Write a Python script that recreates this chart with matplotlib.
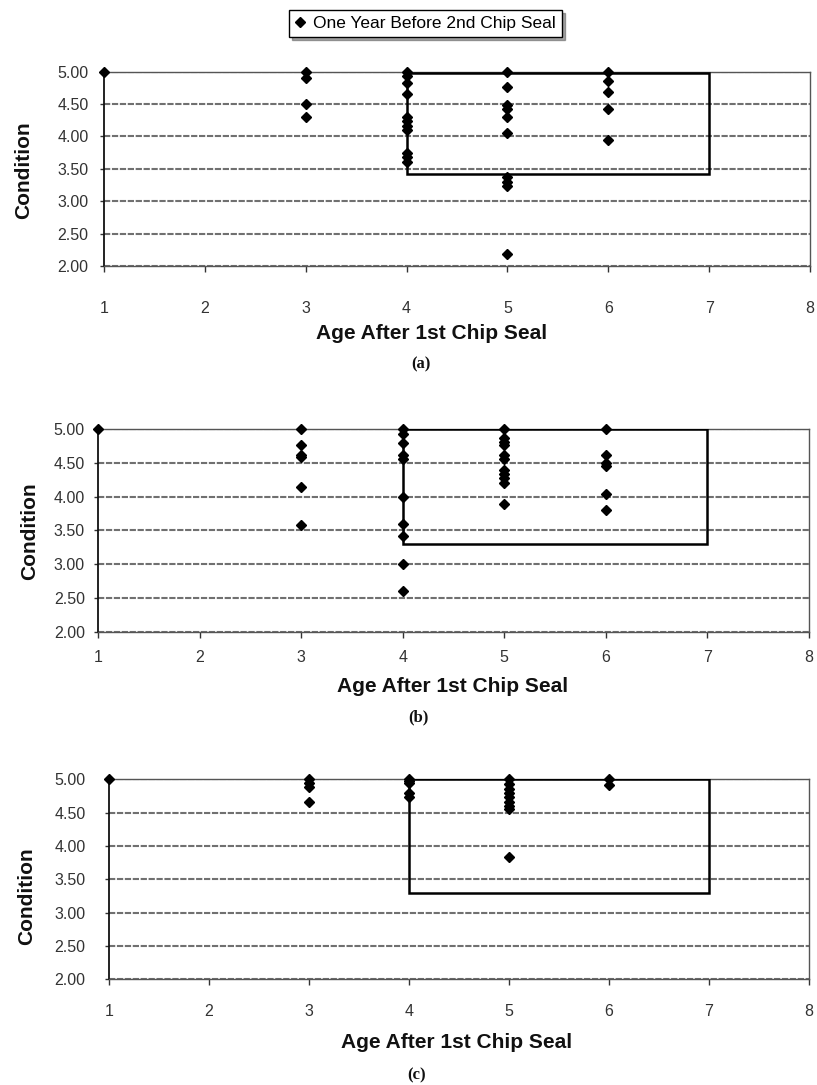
import matplotlib
matplotlib.use("Agg")
import matplotlib.pyplot as plt
from matplotlib.patches import Rectangle

plt.rcParams['font.family'] = ['Liberation Sans', 'DejaVu Sans']

W, H = 817, 1085

# ---------------- data ----------------
legend_label = "One Year Before 2nd Chip Seal"
x_label = "Age After 1st Chip Seal"
y_label = "Condition"
panel_labels = ["(a)", "(b)", "(c)"]
x_ticks = [1, 2, 3, 4, 5, 6, 7, 8]
y_ticks = [2.0, 2.5, 3.0, 3.5, 4.0, 4.5, 5.0]

a_age = [1,
         3, 3, 3, 3,
         4, 4, 4, 4, 4, 4, 4, 4, 4, 4, 4,
         5, 5, 5, 5, 5, 5, 5, 5, 5, 5,
         6, 6, 6, 6, 6]
a_cond = [5.00,
          5.00, 4.90, 4.50, 4.30,
          5.00, 4.94, 4.82, 4.65, 4.30, 4.24, 4.16, 4.10, 3.75, 3.69, 3.61,
          5.00, 4.77, 4.48, 4.42, 4.30, 4.06, 3.37, 3.30, 3.24, 2.18,
          5.00, 4.86, 4.68, 4.42, 3.95]

b_age = [1,
         3, 3, 3, 3, 3, 3,
         4, 4, 4, 4, 4, 4, 4, 4, 4, 4,
         5, 5, 5, 5, 5, 5, 5, 5, 5, 5, 5,
         6, 6, 6, 6, 6, 6]
b_cond = [5.00,
          5.00, 4.76, 4.62, 4.58, 4.15, 3.58,
          5.00, 4.93, 4.79, 4.61, 4.56, 4.00, 3.60, 3.42, 3.00, 2.60,
          5.00, 4.87, 4.81, 4.76, 4.61, 4.55, 4.40, 4.34, 4.27, 4.20, 3.89,
          5.00, 4.62, 4.50, 4.46, 4.04, 3.81]

c_age = [1,
         3, 3, 3, 3,
         4, 4, 4, 4, 4,
         5, 5, 5, 5, 5, 5, 5, 5, 5,
         6, 6]
c_cond = [5.00,
          5.00, 4.95, 4.89, 4.66,
          5.00, 4.97, 4.94, 4.80, 4.74,
          5.00, 4.93, 4.86, 4.79, 4.73, 4.66, 4.60, 4.56, 3.84,
          5.00, 4.92]

# highlighted window (age from, age to, condition low, condition high)
a_box = [4, 7, 3.42, 4.98]
b_box = [4, 7, 3.30, 5.00]
c_box = [4, 7, 3.30, 5.00]

# ---------------- layout (pixel based) ----------------
def fx(px):
    return px / W

def fy(py):
    return 1 - py / H

panels = [
    dict(age=a_age, cond=a_cond, box=a_box,
         l=104, r=810, t=71.7, b=266, xpad=21, ypad=8,
         xlab_xy=(432, 333), ylab_xy=(24, 170), plab_xy=(421, 364)),
    dict(age=b_age, cond=b_cond, box=b_box,
         l=98, r=809, t=429, b=632, xpad=8.6, ypad=6.5,
         xlab_xy=(453, 686), ylab_xy=(30, 531), plab_xy=(418, 717)),
    dict(age=c_age, cond=c_cond, box=c_box,
         l=109, r=809, t=779.3, b=979.3, xpad=13.5, ypad=14,
         xlab_xy=(457, 1042), ylab_xy=(27, 896), plab_xy=(417, 1075)),
]

fig = plt.figure(figsize=(W / 100, H / 100), dpi=100)
fig.patch.set_facecolor('white')

handle = None
for i, p in enumerate(panels):
    ax = fig.add_axes([fx(p['l']), fy(p['b']), fx(p['r'] - p['l']), (p['b'] - p['t']) / H])
    ax.set_xlim(x_ticks[0], x_ticks[-1])
    ax.set_ylim(y_ticks[0], y_ticks[-1])
    ax.set_xticks(x_ticks)
    ax.set_yticks(y_ticks)
    ax.set_yticklabels([f"{v:.2f}" for v in y_ticks])
    ax.yaxis.grid(True, color='#707070', linewidth=1.5, linestyle=(0, (3, 0.8)))
    ax.set_axisbelow(True)
    ax.tick_params(axis='x', direction='out', length=4, width=1, pad=p['xpad'],
                   labelsize=11.5, colors='#333333')
    ax.tick_params(axis='y', direction='out', length=3, width=1, pad=p['ypad'],
                   labelsize=11.5, colors='#333333')
    for side in ['top', 'right', 'bottom']:
        ax.spines[side].set_color('#555555')
        ax.spines[side].set_linewidth(1.0)
    ax.spines['left'].set_color('#111111')
    ax.spines['left'].set_linewidth(1.3)

    bx = p['box']
    ax.add_patch(Rectangle((bx[0], bx[2]), bx[1] - bx[0], bx[3] - bx[2],
                           fill=False, edgecolor='black', linewidth=1.8, zorder=3))

    h, = ax.plot(p['age'], p['cond'], linestyle='none', marker='D', markersize=5.5,
                 color='black', clip_on=False, zorder=4)
    if handle is None:
        handle = h

    ax.set_xlabel(x_label, fontsize=15, fontweight='bold', color='#111111')
    ax.xaxis.set_label_coords(fx(p['xlab_xy'][0]), fy(p['xlab_xy'][1]), transform=fig.transFigure)
    ax.xaxis.label.set_va('center')
    ax.set_ylabel(y_label, fontsize=15, fontweight='bold', color='#111111')
    ax.yaxis.set_label_coords(fx(p['ylab_xy'][0]), fy(p['ylab_xy'][1]), transform=fig.transFigure)
    ax.yaxis.label.set_va('center')

    fig.text(fx(p['plab_xy'][0]), fy(p['plab_xy'][1]), panel_labels[i],
             ha='center', va='center', fontsize=12, fontweight='bold',
             family=['Liberation Serif', 'DejaVu Serif'], color='#111111')

leg = fig.legend([handle], [legend_label], loc='center',
                 bbox_to_anchor=(fx(425.5), fy(23.5)), frameon=True, fancybox=False,
                 shadow=True, edgecolor='black', fontsize=12.5, borderpad=0.35,
                 handlelength=0.6, handletextpad=0.45, borderaxespad=0)
leg.get_frame().set_linewidth(1.0)

fig.savefig("out.png", dpi=100, facecolor='white')
